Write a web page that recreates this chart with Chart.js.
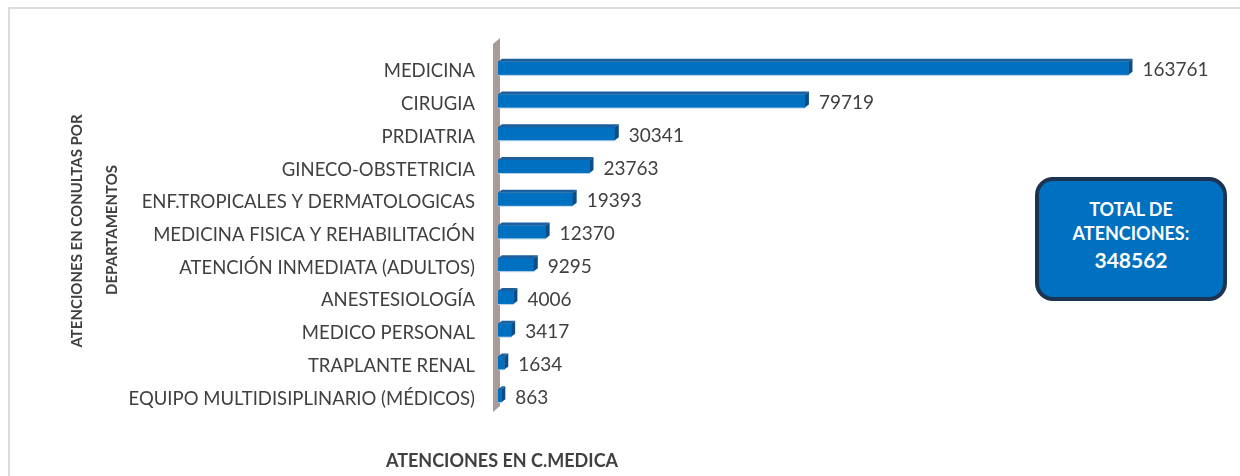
<!DOCTYPE html>
<html>
<head>
<meta charset="utf-8">
<script src="https://cdn.jsdelivr.net/npm/chart.js@4.4.1/dist/chart.umd.min.js"></script>
<style>
  html, body { margin: 0; padding: 0; background: #fff; }
  #wrap { position: relative; width: 1240px; height: 476px; overflow: hidden; font-family: Lato, "Open Sans", sans-serif; }
  #frame { position: absolute; left: 8px; top: 7px; width: 1260px; height: 500px; border-left: 2px solid #dcdcdc; border-top: 2px solid #dcdcdc; }
  #chart { position: absolute; left: 0; top: 0; }
  .ytitle { position: absolute; color: #404040; font-weight: bold; font-size: 15px; white-space: nowrap;
            transform: translate(-50%, -50%) rotate(-90deg); }
  #xtitle { position: absolute; left: 502px; top: 460px; transform: translate(-50%, -50%); color: #404040; font-weight: bold; font-size: 18px; white-space: nowrap; }
  #total { position: absolute; left: 1035px; top: 177px; width: 184px; height: 116px; background: #0070c0; border: 4px solid #1c3450;
           border-radius: 18px; color: #fff; font-weight: bold; text-align: center; font-size: 18px; line-height: 24px; box-sizing: content-box; }
  #total .num { font-size: 21px; line-height: 30px; }
</style>
</head>
<body>
<div id="wrap">
  <div id="frame"></div>
  <canvas id="chart" width="1240" height="476"></canvas>
  <div class="ytitle" style="left:76px; top:231px;">ATENCIONES EN CONULTAS POR</div>
  <div class="ytitle" style="left:111px; top:230px;">DEPARTAMENTOS</div>
  <div id="xtitle">ATENCIONES EN C.MEDICA</div>
  <div id="total"><div style="height:16px"></div>TOTAL DE<br>ATENCIONES:<br><span class="num">348562</span></div>
</div>
<script>
var departamentos = ["MEDICINA", "CIRUGIA", "PRDIATRIA", "GINECO-OBSTETRICIA", "ENF.TROPICALES Y DERMATOLOGICAS",
  "MEDICINA FISICA Y REHABILITACIÓN", "ATENCIÓN INMEDIATA (ADULTOS)", "ANESTESIOLOGÍA", "MEDICO PERSONAL",
  "TRAPLANTE RENAL", "EQUIPO MULTIDISIPLINARIO (MÉDICOS)"];
var atenciones = [163761, 79719, 30341, 23763, 19393, 12370, 9295, 4006, 3417, 1634, 863];
var ejeMax = 180000;

// pared gris y caras 3D de las barras
var efecto3d = {
  id: 'efecto3d',
  beforeDatasetsDraw: function(chart) {
    var ctx = chart.ctx, a = chart.chartArea;
    ctx.save();
    ctx.fillStyle = '#a89b97';
    ctx.beginPath();
    ctx.moveTo(a.left - 5, a.top - 8);
    ctx.lineTo(a.left + 2, a.top - 14);
    ctx.lineTo(a.left + 2, a.bottom - 6);
    ctx.lineTo(a.left - 5, a.bottom);
    ctx.closePath();
    ctx.fill();
    ctx.restore();
  },
  afterDatasetsDraw: function(chart) {
    var ctx = chart.ctx;
    var meta = chart.getDatasetMeta(0);
    var dx = 4, dy = -3;
    ctx.save();
    meta.data.forEach(function(bar, i) {
      var x0 = bar.base, x1 = bar.x;
      var yT = bar.y - bar.height / 2, yB = bar.y + bar.height / 2;
      // cara superior
      ctx.fillStyle = '#1b5f9e';
      ctx.beginPath();
      ctx.moveTo(x0, yT); ctx.lineTo(x0 + dx, yT + dy); ctx.lineTo(x1 + dx, yT + dy); ctx.lineTo(x1, yT);
      ctx.closePath(); ctx.fill();
      // cara lateral
      ctx.fillStyle = '#0c4d87';
      ctx.beginPath();
      ctx.moveTo(x1, yT); ctx.lineTo(x1 + dx, yT + dy); ctx.lineTo(x1 + dx, yB + dy); ctx.lineTo(x1, yB);
      ctx.closePath(); ctx.fill();
      // reflejo inferior
      ctx.fillStyle = '#b9d3ec';
      ctx.fillRect(x0, yB, x1 - x0, 1);
      // etiqueta
      ctx.fillStyle = '#404040';
      ctx.font = '19px Lato, "Open Sans", sans-serif';
      ctx.textAlign = 'left';
      ctx.textBaseline = 'middle';
      ctx.fillText(String(atenciones[i]), x1 + dx + 10, bar.y + 2);
    });
    ctx.restore();
  }
};

new Chart(document.getElementById('chart'), {
  type: 'bar',
  data: {
    labels: departamentos,
    datasets: [{
      data: atenciones,
      backgroundColor: '#0070c0',
      borderWidth: 0,
      barThickness: 13
    }]
  },
  options: {
    indexAxis: 'y',
    responsive: false,
    animation: false,
    layout: { padding: { top: 52, bottom: 64, right: 49, left: 0 } },
    plugins: { legend: { display: false }, tooltip: { enabled: false } },
    scales: {
      x: { display: false, min: 0, max: ejeMax },
      y: {
        afterFit: function(scale) { scale.width = 498; },
        grid: { display: false, drawTicks: false },
        border: { display: false },
        ticks: { padding: 23, labelOffset: 3, color: '#404040', font: { family: 'Lato', size: 18.5 } }
      }
    }
  },
  plugins: [efecto3d]
});
</script>
</body>
</html>
